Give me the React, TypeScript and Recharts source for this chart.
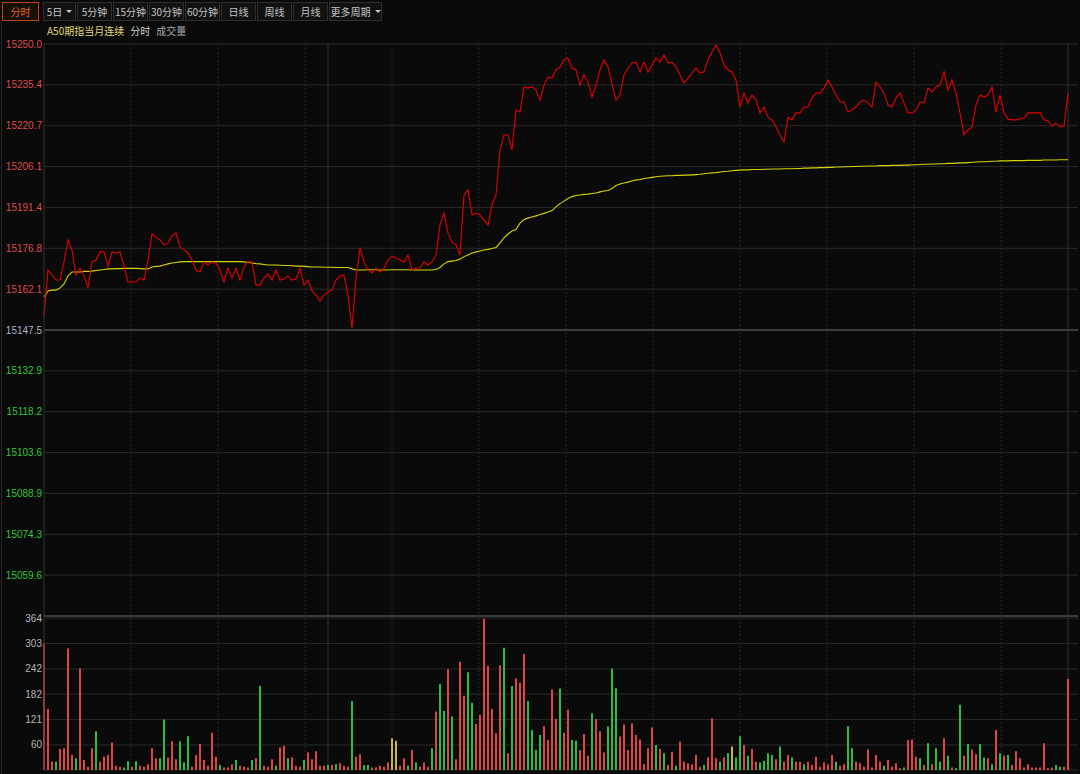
import { Bar, BarChart, CartesianGrid, Cell, Line, LineChart, ReferenceLine, XAxis, YAxis } from "recharts";

// one sample every ~4 minutes of the session
const price = [
	15152.2, 15169.0, 15167.2, 15165.4, 15165.4, 15171.9, 15179.8, 15176.2, 15167.2, 15169.7,
	15166.9, 15162.6, 15171.9, 15172.6, 15175.5, 15175.5, 15170.4, 15175.5, 15175.1, 15175.5,
	15170.4, 15164.7, 15164.7, 15164.7, 15166.1, 15165.4, 15172.6, 15181.9, 15180.8, 15179.8,
	15178.0, 15178.7, 15181.2, 15182.3, 15177.2, 15176.2, 15175.1, 15172.6, 15169.0, 15168.3,
	15171.9, 15170.8, 15171.9, 15171.5, 15169.0, 15164.7, 15169.7, 15166.1, 15169.7, 15165.4,
	15170.1, 15171.9, 15171.9, 15163.6, 15163.6, 15166.1, 15167.6, 15165.4, 15169.0, 15165.4,
	15165.8, 15166.9, 15165.4, 15165.8, 15169.7, 15163.6, 15165.4, 15161.5, 15160.0, 15157.9,
	15160.0, 15161.1, 15161.8, 15165.4, 15166.9, 15167.2, 15160.0, 15148.2, 15166.1, 15176.9,
	15171.9, 15169.0, 15167.9, 15169.7, 15168.3, 15169.7, 15172.6, 15174.0, 15173.3, 15172.6,
	15171.9, 15174.4, 15169.0, 15169.7, 15169.7, 15171.9, 15170.8, 15171.9, 15174.4, 15185.1,
	15189.4, 15182.3, 15179.0, 15178.0, 15174.4, 15195.9, 15197.7, 15188.7, 15189.4, 15188.7,
	15186.9, 15185.1, 15192.3, 15195.9, 15212.0, 15217.4, 15217.4, 15212.0, 15226.3, 15225.6,
	15234.6, 15234.2, 15234.6, 15233.5, 15229.9, 15235.3, 15238.2, 15237.8, 15240.7, 15241.8,
	15244.3, 15245.0, 15241.4, 15240.7, 15235.3, 15238.9, 15236.4, 15231.0, 15235.3, 15240.7,
	15244.3, 15241.8, 15235.7, 15229.9, 15231.7, 15238.9, 15241.4, 15243.2, 15243.5, 15240.0,
	15243.5, 15240.0, 15242.5, 15245.0, 15243.5, 15246.1, 15243.2, 15243.5, 15241.8, 15238.9,
	15236.0, 15237.8, 15239.6, 15241.4, 15239.6, 15240.0, 15244.3, 15247.1, 15249.6, 15246.8,
	15242.5, 15240.7, 15240.0, 15237.1, 15227.4, 15232.4, 15228.9, 15231.7, 15229.9, 15225.3,
	15227.4, 15223.8, 15222.8, 15220.3, 15217.4, 15214.9, 15223.8, 15222.8, 15225.3, 15225.3,
	15227.4, 15227.4, 15230.6, 15232.4, 15232.4, 15234.2, 15237.1, 15234.6, 15231.7, 15229.2,
	15229.2, 15225.6, 15226.3, 15227.4, 15229.2, 15229.9, 15228.9, 15227.4, 15236.4, 15234.6,
	15232.4, 15228.1, 15227.4, 15230.6, 15232.4, 15228.9, 15225.3, 15225.3, 15226.3, 15229.2,
	15228.9, 15234.2, 15232.8, 15234.6, 15235.3, 15240.0, 15233.5, 15237.1, 15232.4, 15225.3,
	15217.4, 15219.2, 15220.3, 15228.1, 15231.7, 15231.0, 15231.7, 15234.6, 15225.6, 15231.7,
	15225.3, 15223.1, 15222.8, 15222.8, 15223.1, 15223.5, 15225.3, 15225.3, 15225.3, 15225.3,
	15222.8, 15222.4, 15220.6, 15221.7, 15220.3, 15220.6, 15232.4,
];

const avgPrice = [
	15159.3, 15161.5, 15161.8, 15161.8, 15162.6, 15164.0, 15166.9, 15168.3, 15168.3, 15168.3,
	15168.5, 15168.5, 15168.6, 15168.8, 15169.0, 15169.2, 15169.4, 15169.4, 15169.5, 15169.5,
	15169.6, 15169.6, 15169.6, 15169.6, 15169.5, 15169.4, 15169.4, 15170.1, 15170.3, 15170.4,
	15170.8, 15171.2, 15171.5, 15171.7, 15171.9, 15172.0, 15172.0, 15172.0, 15172.0, 15172.0,
	15172.0, 15172.0, 15172.0, 15172.0, 15172.0, 15172.0, 15172.0, 15172.0, 15172.0, 15172.0,
	15171.9, 15171.7, 15171.5, 15171.3, 15171.2, 15171.0, 15170.8, 15170.8, 15170.8, 15170.7,
	15170.6, 15170.6, 15170.5, 15170.4, 15170.4, 15170.3, 15170.2, 15170.1, 15170.1, 15170.1,
	15170.0, 15170.0, 15170.0, 15169.9, 15169.9, 15169.9, 15169.9, 15169.4, 15169.0, 15169.0,
	15169.0, 15169.1, 15169.1, 15169.1, 15169.0, 15169.0, 15169.0, 15169.1, 15169.1, 15169.1,
	15169.1, 15169.1, 15169.0, 15169.0, 15169.0, 15169.0, 15169.0, 15169.0, 15169.2, 15169.9,
	15171.2, 15172.0, 15172.2, 15172.4, 15172.9, 15173.8, 15174.4, 15175.1, 15175.5, 15175.8,
	15176.2, 15176.4, 15176.7, 15177.1, 15178.7, 15180.5, 15181.9, 15183.0, 15183.5, 15185.8,
	15187.1, 15187.6, 15188.0, 15188.4, 15188.9, 15189.3, 15189.8, 15190.3, 15191.6, 15192.8,
	15193.7, 15194.6, 15195.3, 15195.7, 15195.9, 15196.1, 15196.2, 15196.4, 15196.6, 15197.0,
	15197.3, 15197.5, 15198.2, 15199.3, 15199.8, 15200.2, 15200.5, 15200.9, 15201.3, 15201.4,
	15201.8, 15202.0, 15202.2, 15202.4, 15202.6, 15202.7, 15202.8, 15202.8, 15202.9, 15202.9,
	15203.0, 15203.0, 15203.1, 15203.2, 15203.3, 15203.5, 15203.7, 15203.8, 15203.9, 15204.1,
	15204.3, 15204.4, 15204.6, 15204.7, 15204.8, 15204.9, 15204.9, 15205.0, 15205.0, 15205.0,
	15205.1, 15205.1, 15205.2, 15205.2, 15205.2, 15205.3, 15205.3, 15205.3, 15205.4, 15205.4,
	15205.5, 15205.5, 15205.6, 15205.6, 15205.7, 15205.7, 15205.8, 15205.8, 15205.9, 15205.9,
	15206.0, 15206.0, 15206.1, 15206.1, 15206.2, 15206.2, 15206.3, 15206.3, 15206.3, 15206.4,
	15206.4, 15206.4, 15206.5, 15206.5, 15206.5, 15206.6, 15206.6, 15206.7, 15206.7, 15206.8,
	15206.9, 15206.9, 15207.0, 15207.0, 15207.1, 15207.1, 15207.2, 15207.2, 15207.3, 15207.4,
	15207.4, 15207.5, 15207.6, 15207.7, 15207.8, 15207.8, 15207.9, 15208.0, 15208.0, 15208.1,
	15208.1, 15208.1, 15208.2, 15208.2, 15208.2, 15208.2, 15208.3, 15208.3, 15208.3, 15208.3,
	15208.4, 15208.4, 15208.4, 15208.4, 15208.5, 15208.5, 15208.5,
];

const volume = [
	303, 146, 20, 20, 50, 52, 291, 36, 28, 243,
	24, 8, 52, 93, 20, 32, 36, 66, 10, 8,
	6, 21, 8, 21, 10, 8, 14, 52, 28, 28,
	121, 30, 69, 26, 69, 18, 81, 8, 36, 62,
	24, 10, 89, 32, 12, 6, 6, 14, 24, 10,
	8, 6, 24, 28, 201, 10, 8, 26, 10, 54,
	58, 28, 30, 10, 8, 24, 42, 26, 45, 10,
	10, 12, 12, 14, 16, 10, 8, 165, 32, 38,
	12, 12, 6, 6, 10, 8, 18, 76, 70, 10,
	28, 10, 48, 18, 8, 18, 8, 52, 140, 206,
	141, 242, 128, 26, 259, 177, 234, 161, 110, 132,
	362, 249, 146, 88, 251, 293, 40, 201, 219, 209,
	278, 165, 96, 48, 84, 105, 72, 193, 122, 195,
	89, 145, 72, 70, 48, 86, 34, 136, 122, 93,
	42, 104, 243, 196, 80, 109, 48, 112, 84, 73,
	14, 52, 102, 60, 50, 40, 12, 44, 10, 68,
	20, 16, 14, 36, 8, 12, 30, 124, 28, 20,
	30, 41, 56, 30, 81, 60, 34, 50, 20, 18,
	22, 40, 36, 26, 56, 20, 36, 30, 20, 20,
	14, 20, 12, 32, 8, 18, 14, 36, 20, 10,
	14, 105, 52, 20, 16, 8, 49, 6, 36, 20,
	10, 24, 8, 16, 4, 6, 72, 73, 32, 28,
	12, 64, 14, 52, 20, 76, 34, 6, 4, 156,
	34, 62, 49, 38, 62, 30, 28, 14, 96, 40,
	34, 36, 12, 45, 28, 6, 14, 6, 6, 6,
	64, 4, 6, 12, 8, 8, 218,
];

// r = up, g = down, y = unchanged
const volumeSide =
	"rrrgrrrrgr" + "rrrgrrrrrr" + "ggrgrrrrrg" + "grrrgggrrr" + "rrrrgrrrgr" +
	"rrgrgrrrgr" + "rgrrrgrrrr" + "rgrgrrrgrr" + "ggrrrrryyr" + "rgrgrrrgrg" +
	"grgrrrggrr" + "rrrrrgrgrr" + "rggggrrrrg" + "rrggrrrgrr" + "rgggrrrrrr" +
	"rrrgrgrrgr" + "rrrrrgrrrg" + "rgyggrgrrg" + "gggrgrrgrr" + "grrrrrrrgr" +
	"rggrrrrrrr" + "grrrrgrrrg" + "rgrggrgrgg" + "rgrrggrgrg" + "rgrrrrrrrr" +
	"rrrggrr";

const priceTicks = [
	15250.0, 15235.357, 15220.714, 15206.071, 15191.429, 15176.786, 15162.143, 15147.5,
	15132.857, 15118.214, 15103.571, 15088.929, 15074.286, 15059.643, 15045.0,
];
const volumeTicks = [0, 60, 121, 182, 242, 303, 364];
const timeGrid = [21.75, 43.5, 65.25, 87, 108.75, 130.5, 152.25, 174, 195.75, 217.5, 239.25];
const sessionBreaks = [71, 256];
const PRE_CLOSE = 15147.5;

const periods = ["分时", "5日", "5分钟", "15分钟", "30分钟", "60分钟", "日线", "周线", "月线", "更多周期"];
const periodWidths = [37, 33, 35, 35, 35, 35, 35, 35, 35, 53];

const data = price.map((p, i) => ({
	i,
	price: p,
	avg: avgPrice[i],
	vol: volume[i],
	side: volumeSide[i],
}));

const sideColor: Record<string, string> = { r: "#de4646", g: "#2cbd47", y: "#c9b54a" };
const cjk = "'Noto Sans CJK SC', 'Noto Sans', sans-serif";
const num = "'Liberation Sans', Arial, sans-serif";

const PriceTick = ({ y, payload }: any) => {
	const v = payload.value;
	if (v <= 15045) return <g />;
	const fill = v > PRE_CLOSE + 0.01 ? "#de4c4c" : v < PRE_CLOSE - 0.01 ? "#34c43c" : "#aab4c6";
	return (
		<text x={42} y={y} dy={3.5} textAnchor="end" fill={fill} fontSize={10} fontFamily={num}>
			{v.toFixed(1)}
		</text>
	);
};

const VolTick = ({ y, payload }: any) => {
	if (payload.value === 0) return <g />;
	return (
		<text x={42} y={y} dy={3.5} textAnchor="end" fill="#b4b4b4" fontSize={10} fontFamily={num}>
			{payload.value}
		</text>
	);
};

function Caret() {
	return (
		<span
			style={{
				display: "inline-block",
				marginLeft: 4,
				borderLeft: "3px solid transparent",
				borderRight: "3px solid transparent",
				borderTop: "3px solid #c8c8c8",
				verticalAlign: "middle",
			}}
		/>
	);
}

export default function App() {
	return (
		<div
			style={{
				position: "absolute",
				left: 0,
				top: 0,
				width: 1080,
				height: 774,
				background: "#0a0a0a",
				overflow: "hidden",
			}}
		>
			<div style={{ position: "absolute", left: 0, top: 0 }}>
				<LineChart width={1080} height={620} data={data} margin={{ top: 44, right: 2, bottom: 4, left: 0 }}>
					<CartesianGrid vertical={false} stroke="#2a2a2a" />
					<CartesianGrid horizontal={false} verticalValues={timeGrid} stroke="#262626" strokeDasharray="2 2" />
					<CartesianGrid horizontal={false} verticalValues={sessionBreaks} stroke="#303030" />
					<XAxis type="number" dataKey="i" domain={[0, 258.5]} hide />
					<YAxis
						domain={[15045, 15250]}
						ticks={priceTicks}
						width={44}
						axisLine={{ stroke: "#333" }}
						tickLine={false}
						tick={<PriceTick />}
						interval={0}
					/>
					<ReferenceLine y={PRE_CLOSE} stroke="#3c3c3c" strokeWidth={2} />
					<ReferenceLine y={15045} stroke="#3a3a3a" strokeWidth={2} />
					<Line type="linear" dataKey="avg" stroke="#d6d300" strokeWidth={1.1} dot={false} isAnimationActive={false} />
					<Line type="linear" dataKey="price" stroke="#e40000" strokeWidth={1.1} dot={false} isAnimationActive={false} />
				</LineChart>
			</div>

			<div style={{ position: "absolute", left: 0, top: 606 }}>
				<BarChart width={1080} height={168} data={data} margin={{ top: 12, right: 2, bottom: 4, left: 0 }}>
					<CartesianGrid vertical={false} stroke="#2a2a2a" />
					<CartesianGrid horizontal={false} verticalValues={timeGrid} stroke="#262626" strokeDasharray="2 2" />
					<CartesianGrid horizontal={false} verticalValues={sessionBreaks} stroke="#303030" />
					<XAxis type="number" dataKey="i" domain={[0, 258.5]} hide />
					<YAxis
						domain={[0, 364]}
						ticks={volumeTicks}
						width={44}
						axisLine={{ stroke: "#333" }}
						tickLine={false}
						tick={<VolTick />}
						interval={0}
					/>
					<Bar dataKey="vol" barSize={2} isAnimationActive={false}>
						{data.map((d) => (
							<Cell key={d.i} fill={sideColor[d.side]} />
						))}
					</Bar>
				</BarChart>
			</div>

			<div style={{ position: "absolute", left: 1, top: 22, width: 1, height: 752, background: "#262626" }} />

			<div style={{ position: "absolute", left: 2, top: 2, display: "flex", fontFamily: cjk, fontSize: 10 }}>
				{periods.map((p, i) => (
					<div
						key={p}
						style={{
							width: periodWidths[i],
							height: 19,
							boxSizing: "border-box",
							marginRight: i === 0 ? 4 : 1,
							border: i === 0 ? "1px solid #b8461a" : "1px solid #2e2e2e",
							background: i === 0 ? "#141008" : "#111",
							color: i === 0 ? "#e8642a" : "#c4c4c4",
							display: "flex",
							alignItems: "center",
							justifyContent: "center",
							whiteSpace: "nowrap",
						}}
					>
						{p}
						{(p === "5日" || p === "更多周期") && <Caret />}
					</div>
				))}
			</div>

			<div
				style={{
					position: "absolute",
					left: 47,
					top: 23,
					fontFamily: cjk,
					fontSize: 10,
					whiteSpace: "nowrap",
				}}
			>
				<span style={{ color: "#e2d77a" }}>A50期指当月连续</span>
				<span style={{ color: "#cfcfcf", marginLeft: 6 }}>分时</span>
				<span style={{ color: "#a8a8a8", marginLeft: 6 }}>成交量</span>
			</div>
		</div>
	);
}
